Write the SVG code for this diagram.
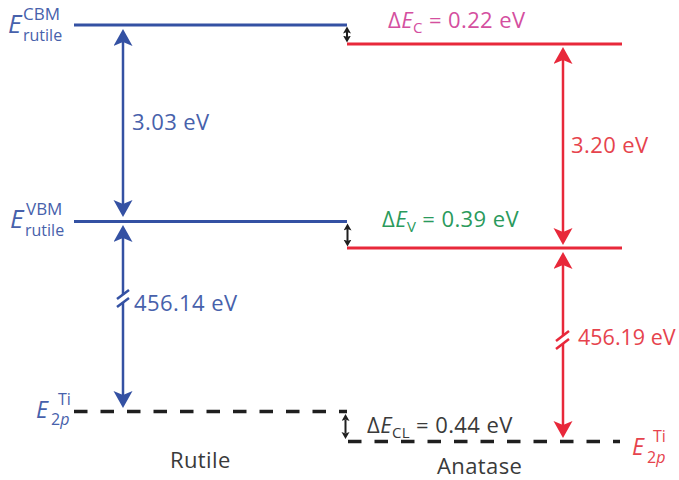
<svg xmlns="http://www.w3.org/2000/svg" width="679" height="480" viewBox="0 0 679 480">
<defs>
<style>
text{font-family:"Open Sans","Liberation Sans",sans-serif;}
.lbl{font-size:22px;letter-spacing:0.4px;}
.blue{fill:#4761ab;}
.red{fill:#e6434d;}
.pink{fill:#d44f9f;}
.green{fill:#2a9a5c;}
.dark{fill:#3a3a3a;}
.it{font-style:italic;}
.bl{stroke:#3451a3;stroke-width:3;fill:none;}
.rl{stroke:#e8283a;stroke-width:3;fill:none;}
.dl{stroke:#1f1f1f;stroke-width:3.5;fill:none;stroke-dasharray:13.5 13;}
.ba{stroke:#3451a3;stroke-width:2.5;fill:none;}
.ra{stroke:#e8283a;stroke-width:2.5;fill:none;}
.ka{stroke:#1f1f1f;stroke-width:2;fill:none;}
</style>
<marker id="hb" markerUnits="userSpaceOnUse" markerWidth="20" markerHeight="20" refX="4" refY="9.5" orient="auto-start-reverse"><path d="M0,0 L17,9.5 L0,19 L4,9.5 z" fill="#3451a3"/></marker>
<marker id="hr" markerUnits="userSpaceOnUse" markerWidth="20" markerHeight="20" refX="4" refY="9.5" orient="auto-start-reverse"><path d="M0,0 L17,9.5 L0,19 L4,9.5 z" fill="#e8283a"/></marker>
<marker id="hk" markerUnits="userSpaceOnUse" markerWidth="9" markerHeight="9" refX="1.5" refY="4" orient="auto-start-reverse"><path d="M0,0 L7,4 L0,8 L1.5,4 z" fill="#1f1f1f"/></marker>
</defs>

<g id="rutile-levels">
<line class="bl" x1="74" y1="25" x2="347" y2="25"/>
<line class="bl" x1="74" y1="221.5" x2="347" y2="221.5"/>
<line class="dl" x1="74" y1="411.5" x2="347" y2="411.5"/>
</g>
<g id="anatase-levels">
<line class="rl" x1="347" y1="44" x2="622" y2="44"/>
<line class="rl" x1="347" y1="248" x2="622" y2="248"/>
<line class="dl" x1="348" y1="441.5" x2="620" y2="441.5"/>
</g>

<g id="connectors">
<line class="ba" x1="123" y1="42" x2="123" y2="204" marker-start="url(#hb)" marker-end="url(#hb)"/>
<line class="ba" x1="123" y1="238" x2="123" y2="295" marker-start="url(#hb)"/>
<line class="ba" x1="123" y1="302" x2="123" y2="395" marker-end="url(#hb)"/>
<line class="ba" x1="117" y1="299" x2="129" y2="290"/>
<line class="ba" x1="117" y1="307" x2="129" y2="298"/>
<line class="ra" x1="563" y1="60" x2="563" y2="232" marker-start="url(#hr)" marker-end="url(#hr)"/>
<line class="ra" x1="563" y1="265" x2="563" y2="336" marker-start="url(#hr)"/>
<line class="ra" x1="563" y1="344" x2="563" y2="425" marker-end="url(#hr)"/>
<line class="ra" x1="556" y1="341" x2="569" y2="331"/>
<line class="ra" x1="556" y1="349" x2="569" y2="339"/>
<line class="ka" x1="347" y1="32" x2="347" y2="37" marker-start="url(#hk)" marker-end="url(#hk)"/>
<line class="ka" x1="347.5" y1="229" x2="347.5" y2="241" marker-start="url(#hk)" marker-end="url(#hk)"/>
<line class="ka" x1="345.5" y1="419.5" x2="345.5" y2="433.5" marker-start="url(#hk)" marker-end="url(#hk)"/>
</g>

<g id="labels-rutile">
<text class="blue it" x="8" y="33" font-size="26">E</text>
<text class="blue" x="23" y="20" font-size="17">CBM</text>
<text class="blue" x="23" y="41" font-size="16">rutile</text>
<text class="blue it" x="10" y="228" font-size="26">E</text>
<text class="blue" x="26" y="215" font-size="17">VBM</text>
<text class="blue" x="25" y="236" font-size="16">rutile</text>
<text class="blue it" x="36" y="418" font-size="23">E</text>
<text class="blue" x="58" y="405" font-size="16">Ti</text>
<text class="blue" x="51" y="425" font-size="16"><tspan>2</tspan><tspan class="it">p</tspan></text>
<text class="dark lbl" x="170" y="468">Rutile</text>
</g>
<g id="labels-anatase">
<text class="red it" x="632" y="455" font-size="23">E</text>
<text class="red" x="653" y="442" font-size="16">Ti</text>
<text class="red" x="647" y="463" font-size="16"><tspan>2</tspan><tspan class="it">p</tspan></text>
<text class="dark lbl" x="437" y="474">Anatase</text>
</g>
<g id="gap-labels">
<text class="blue lbl" x="132" y="130">3.03 eV</text>
<text class="red lbl" x="571" y="153">3.20 eV</text>
<text class="blue lbl" x="134" y="311">456.14 eV</text>
<text class="red" x="578" y="345" font-size="21.5">456.19 eV</text>
</g>
<g id="offset-labels">
<text class="pink lbl" x="388" y="28">Δ<tspan class="it">E</tspan><tspan font-size="15" dy="5">C</tspan><tspan dy="-5"> = 0.22 eV</tspan></text>
<text class="green lbl" x="382" y="227">Δ<tspan class="it">E</tspan><tspan font-size="15" dy="5">V</tspan><tspan dy="-5"> = 0.39 eV</tspan></text>
<text class="dark lbl" x="367" y="433">Δ<tspan class="it">E</tspan><tspan font-size="15" dy="5">CL</tspan><tspan dy="-5"> = 0.44 eV</tspan></text>
</g>
</svg>
